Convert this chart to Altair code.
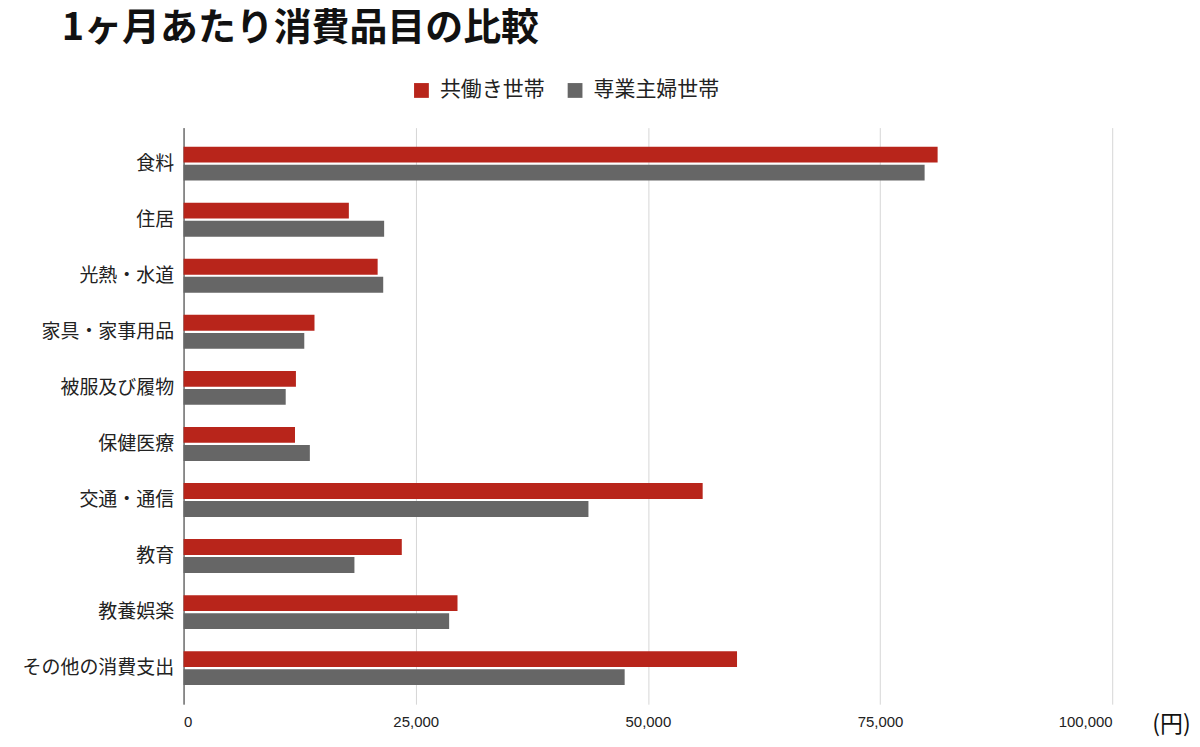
import altair as alt
import pandas as pd

categories = ["食料", "住居", "光熱・水道", "家具・家事用品", "被服及び履物",
              "保健医療", "交通・通信", "教育", "教養娯楽", "その他の消費支出"]
series = ["共働き世帯", "専業主婦世帯"]
dual_income = [81200, 17800, 20900, 14100, 12100, 12000, 55900, 23500, 29500, 59600]
single_income = [79800, 21600, 21500, 13000, 11000, 13600, 43600, 18400, 28600, 47500]

rows = []
for i, c in enumerate(categories):
    rows.append({"品目": c, "世帯": series[0], "金額": dual_income[i]})
    rows.append({"品目": c, "世帯": series[1], "金額": single_income[i]})
df = pd.DataFrame(rows)

font = "Noto Sans CJK JP"

chart = alt.Chart(df).mark_bar().encode(
    x=alt.X("金額:Q",
            scale=alt.Scale(domain=[0, 100000], nice=False),
            axis=alt.Axis(values=[0, 25000, 50000, 75000, 100000], format=",d",
                          title="(円)", titleAngle=0, titleX=990, titleY=20,
                          titleAlign="center", titleBaseline="middle",
                          titleFontSize=23, titleFontWeight="normal",
                          titleColor="#111", titleFont=font,
                          labelFontSize=15, labelColor="#222", labelPadding=10,
                          grid=True, gridColor="#d6d6d6", domain=False, ticks=False)),
    y=alt.Y("品目:N", sort=categories,
            scale=alt.Scale(paddingInner=0.395, paddingOuter=0.34),
            axis=alt.Axis(title=None, labelFontSize=19, labelColor="#222",
                          labelFont=font, labelPadding=10, ticks=False,
                          domain=True, domainColor="#333", grid=False)),
    yOffset=alt.YOffset("世帯:N", sort=series, scale=alt.Scale(paddingInner=0.12)),
    color=alt.Color("世帯:N", sort=series,
                    scale=alt.Scale(domain=series, range=["#b8251b", "#666666"]),
                    legend=alt.Legend(title=None, orient="none", direction="horizontal",
                                      legendX=228, legendY=-48, symbolType="square",
                                      symbolSize=220, symbolStrokeWidth=0,
                                      labelFontSize=21, labelFont=font, labelColor="#222",
                                      labelOffset=8, columnPadding=20, symbolOffset=0)),
).properties(
    width=931,
    height=578,
    title=alt.TitleParams("1ヶ月あたり消費品目の比較", anchor="start", frame="group",
                          fontSize=38, font=font, fontWeight="bold", color="#111",
                          dx=-122, offset=32),
    autosize=alt.AutoSizeParams(type="none"),
    padding={"left": 176, "top": 119, "right": 80, "bottom": 34},
).configure_view(
    strokeWidth=0
)

chart.save("out.html", embed_options={"renderer": "svg", "actions": False})
